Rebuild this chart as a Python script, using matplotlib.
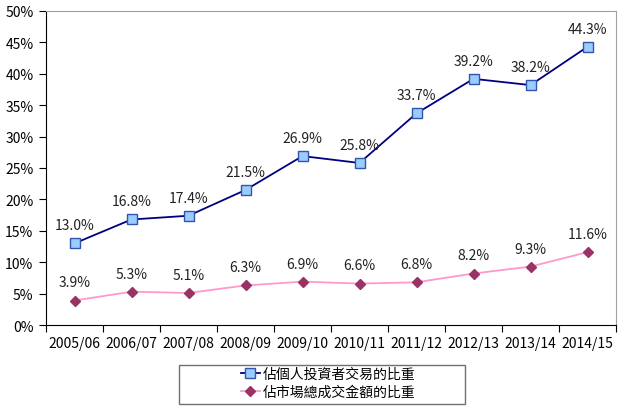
import matplotlib
matplotlib.use("Agg")
import matplotlib.pyplot as plt
from matplotlib.ticker import FuncFormatter, MultipleLocator
from matplotlib.patches import Rectangle
import numpy as np

plt.rcParams['font.family'] = ['Noto Sans CJK TC', 'DejaVu Sans']

# data
years = ["2005/06", "2006/07", "2007/08", "2008/09", "2009/10",
         "2010/11", "2011/12", "2012/13", "2013/14", "2014/15"]
individual = [13.0, 16.8, 17.4, 21.5, 26.9, 25.8, 33.7, 39.2, 38.2, 44.3]
turnover = [3.9, 5.3, 5.1, 6.3, 6.9, 6.6, 6.8, 8.2, 9.3, 11.6]
label_individual = "佔個人投資者交易的比重"
label_turnover = "佔市場總成交金額的比重"

W, H = 630, 414
fig = plt.figure(figsize=(6.3, 4.14), dpi=100)
ax = fig.add_axes([46 / W, 1 - 326 / H, 570 / W, 314 / H])

x = np.arange(len(years))

ax.plot(x, individual, color="#000080", lw=1.3, marker="s", ms=7,
        mfc="#99CCFF", mec="#3355AA", mew=1, label=label_individual)
ax.plot(x, turnover, color="#FF99CC", lw=1.3, marker="D", ms=5,
        mfc="#993366", mec="#993366", label=label_turnover)

for xi, v in zip(x, individual):
    ax.annotate(f"{v:.1f}%", (xi, v), xytext=(0, 13), textcoords="offset points",
                ha="center", va="center", fontsize=10, color="#222222")
for xi, v in zip(x, turnover):
    ax.annotate(f"{v:.1f}%", (xi, v), xytext=(0, 13), textcoords="offset points",
                ha="center", va="center", fontsize=10, color="#222222")

ax.set_xlim(-0.5, len(years) - 0.5)
ax.set_ylim(0, 50)
ax.yaxis.set_major_locator(MultipleLocator(5))
ax.yaxis.set_major_formatter(FuncFormatter(lambda v, p: f"{v:.0f}%"))

# category labels centred, ticks between categories
ax.set_xticks(np.arange(-0.5, len(years), 1.0))
ax.set_xticklabels([])
ax.set_xticks(x, minor=True)
ax.set_xticklabels(years, minor=True)
ax.tick_params(axis="x", which="minor", length=0, pad=8, labelsize=10)
ax.tick_params(axis="x", which="major", length=5, color="black", direction="out")
ax.tick_params(axis="y", length=5, direction="out", labelsize=10, pad=4)

for s in ["top", "right"]:
    ax.spines[s].set_color("#A0A0A0")
for s in ["left", "bottom"]:
    ax.spines[s].set_color("black")

# legend box (wider than its content, like the original)
fig.patches.append(Rectangle((179 / W, 1 - 405 / H), 286 / W, 39 / H,
                             transform=fig.transFigure, fill=False,
                             edgecolor="#707070", lw=1.0))
leg = fig.legend(loc="center left", bbox_to_anchor=(241 / W, 1 - 384 / H),
                 fontsize=10, frameon=False, handlelength=1.35,
                 borderpad=0, borderaxespad=0, labelspacing=0.3,
                 handletextpad=0.25)

fig.savefig("out.png", dpi=100)
